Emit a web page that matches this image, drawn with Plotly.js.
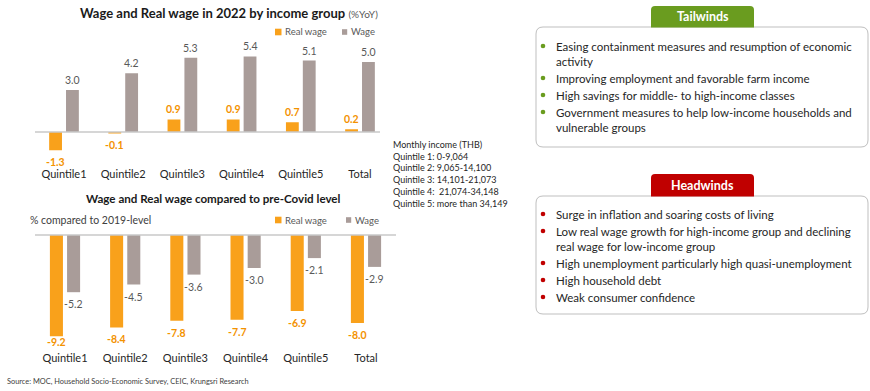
<!DOCTYPE html>
<html><head><meta charset="utf-8">
<script src="https://cdn.plot.ly/plotly-3.0.1.min.js"></script>
<style>html,body{margin:0;padding:0;background:#fff}#chart{width:870px;height:391px}</style>
</head><body><div id="chart"></div>
<script>
// ---- DATA ----
const categories = ['Quintile1','Quintile2','Quintile3','Quintile4','Quintile5','Total'];
const realWage2022 = [-1.3,-0.1,0.9,0.9,0.7,0.2];
const wage2022 = [3.0,4.2,5.3,5.4,5.1,5.0];
const realWageVsPreCovid = [-9.2,-8.4,-7.8,-7.7,-6.9,-8.0];
const wageVsPreCovid = [-5.2,-4.5,-3.6,-3.0,-2.1,-2.9];
const seriesNames = ['Real wage','Wage'];
const incomeNote = ['Monthly income (THB)','Quintile 1: 0-9,064','Quintile 2: 9,065-14,100','Quintile 3: 14,101-21,073','Quintile 4:  21,074-34,148','Quintile 5: more than 34,149'];
const tailwinds = [
  ['Easing containment measures and resumption of economic','activity'],
  ['Improving employment and favorable farm income'],
  ['High savings for middle- to high-income classes'],
  ['Government measures to help low-income households and','vulnerable groups']
];
const headwinds = [
  ['Surge in inflation and soaring costs of living'],
  ['Low real wage growth for high-income group and declining','real wage for low-income group'],
  ['High unemployment particularly high quasi-unemployment'],
  ['High household debt'],
  ['Weak consumer confidence']
];
const title1 = 'Wage and Real wage in 2022 by income group';
const title1Unit = '(%YoY)';
const title2 = 'Wage and Real wage compared to pre-Covid level';
const yLabel2 = '% compared to 2019-level';
const sourceText = 'Source: MOC, Household Socio-Economic Survey, CEIC, Krungsri Research';

// ---- STYLE / LAYOUT ----
const W = 870, H = 391;
const px = x => x / W, py = y => 1 - y / H;
const ORANGE = '#F9A11B', MAUVE = '#A99C99', GREEN = '#6A9C1F', RED = '#C00000';
const FONT = 'Lato, "Open Sans", sans-serif';

const c1 = {top:45, bottom:166, zero:132, ppu:14, x0:34.4, x1:389.6};
const c2 = {top:230, bottom:350, zero:235, ppu:11, x0:34.9, x1:396.1};
const rng = c => [-(c.bottom - c.zero) / c.ppu, (c.zero - c.top) / c.ppu];

const traces = [
  {type:'bar', name:seriesNames[0], x:categories, y:realWage2022, marker:{color:ORANGE}, xaxis:'x', yaxis:'y', hoverinfo:'none'},
  {type:'bar', name:seriesNames[1], x:categories, y:wage2022, marker:{color:MAUVE}, xaxis:'x', yaxis:'y', hoverinfo:'none'},
  {type:'bar', name:seriesNames[0], x:categories, y:realWageVsPreCovid, marker:{color:ORANGE}, xaxis:'x2', yaxis:'y2', hoverinfo:'none'},
  {type:'bar', name:seriesNames[1], x:categories, y:wageVsPreCovid, marker:{color:MAUVE}, xaxis:'x2', yaxis:'y2', hoverinfo:'none'}
];

const ann = [];
const shapes = [];

function valueLabels(vals, xr, yr, c, side, color, bold, clampPx) {
  const slot = (c.x1 - c.x0) / categories.length * 0.57 / 2;
  vals.forEach((v, i) => {
    let ys;
    if (v >= 0) ys = 10;
    else {
      let drop = 12;
      if (clampPx != null) {
        const barBottomPx = c.zero - v * c.ppu;
        drop = Math.min(12, clampPx - barBottomPx);
      }
      ys = -drop;
    }
    ann.push({x:categories[i], y:v, xref:xr, yref:yr, showarrow:false, xshift:side*slot/2, yshift:ys,
      yanchor:'middle', xanchor:'center',
      text: bold ? '<b>'+v.toFixed(1)+'</b>' : v.toFixed(1),
      font:{family:FONT, size:10.5, color:color}});
  });
}
valueLabels(realWage2022, 'x', 'y', c1, -1, '#F39200', true, null);
valueLabels(wage2022, 'x', 'y', c1, 1, '#595959', false, null);
valueLabels(realWageVsPreCovid, 'x2', 'y2', c2, -1, '#F39200', true, 342);
valueLabels(wageVsPreCovid, 'x2', 'y2', c2, 1, '#595959', false, null);

// zero lines
shapes.push({type:'line', xref:'paper', yref:'y', x0:px(35), x1:px(380), y0:0, y1:0, line:{color:'#C8C8C8', width:1.3}});
shapes.push({type:'line', xref:'paper', yref:'y2', x0:px(35), x1:px(396), y0:0, y1:0, line:{color:'#C8C8C8', width:1.3}});

// titles
ann.push({xref:'paper', yref:'paper', x:px(78), y:py(13), xanchor:'left', yanchor:'middle', showarrow:false,
  text:'<b>'+title1+'</b> <span style="font-size:10px;color:#595959">'+title1Unit+'</span>',
  font:{family:FONT, size:13, color:'#1A1A1A'}});
ann.push({xref:'paper', yref:'paper', x:px(213.5), y:py(198), xanchor:'center', yanchor:'middle', showarrow:false,
  text:'<b>'+title2+'</b>', font:{family:FONT, size:11.6, color:'#1A1A1A'}});
ann.push({xref:'paper', yref:'paper', x:px(28), y:py(220), xanchor:'left', yanchor:'middle', showarrow:false,
  text:yLabel2, font:{family:FONT, size:10.5, color:'#404040'}});

// legends
[{ly:32, wx:342}, {ly:220, wx:346}].forEach(({ly, wx}) => {
  shapes.push({type:'rect', xref:'paper', yref:'paper', x0:px(275), x1:px(281.5), y0:py(ly+3.3), y1:py(ly-3.3), fillcolor:ORANGE, line:{width:0}});
  shapes.push({type:'rect', xref:'paper', yref:'paper', x0:px(wx), x1:px(wx+5.2), y0:py(ly+2.8), y1:py(ly-2.8), fillcolor:MAUVE, line:{width:0}});
  ann.push({xref:'paper', yref:'paper', x:px(283), y:py(ly), xanchor:'left', yanchor:'middle', showarrow:false,
    text:seriesNames[0], font:{family:FONT, size:9.5, color:'#595959'}});
  ann.push({xref:'paper', yref:'paper', x:px(wx+6.5), y:py(ly), xanchor:'left', yanchor:'middle', showarrow:false,
    text:seriesNames[1], font:{family:FONT, size:9.5, color:'#595959'}});
});

// income note
ann.push({xref:'paper', yref:'paper', x:px(391), y:py(137), xanchor:'left', yanchor:'top', showarrow:false, align:'left',
  text:incomeNote.join('<br>'), font:{family:FONT, size:9, color:'#262626'}});

// source
ann.push({xref:'paper', yref:'paper', x:px(5), y:py(381), xanchor:'left', yanchor:'middle', showarrow:false,
  text:sourceText, font:{family:FONT, size:7.4, color:'#404040'}});

function roundRect(x0, y0, x1, y1, r) {
  const P = (x, y) => px(x) + ',' + py(y);
  return 'M' + P(x0 + r, y0) + ' L' + P(x1 - r, y0) + ' Q' + P(x1, y0) + ' ' + P(x1, y0 + r) +
    ' L' + P(x1, y1 - r) + ' Q' + P(x1, y1) + ' ' + P(x1 - r, y1) +
    ' L' + P(x0 + r, y1) + ' Q' + P(x0, y1) + ' ' + P(x0, y1 - r) +
    ' L' + P(x0, y0 + r) + ' Q' + P(x0, y0) + ' ' + P(x0 + r, y0) + ' Z';
}
function tabPath(x0, y0, x1, y1, r) {
  const P = (x, y) => px(x) + ',' + py(y);
  return 'M' + P(x0, y1) + ' L' + P(x0, y0 + r) + ' Q' + P(x0, y0) + ' ' + P(x0 + r, y0) +
    ' L' + P(x1 - r, y0) + ' Q' + P(x1, y0) + ' ' + P(x1, y0 + r) + ' L' + P(x1, y1) + ' Z';
}
function panel(label, color, items, tabTop, boxTop, boxBottom, firstY) {
  shapes.push({type:'path', xref:'paper', yref:'paper', path:roundRect(536, boxTop, 868, boxBottom, 7), line:{color:'#BFBFBF', width:1}, fillcolor:'rgba(0,0,0,0)'});
  shapes.push({type:'path', xref:'paper', yref:'paper', path:tabPath(651, tabTop, 754, boxTop + 0.5, 4), line:{width:0}, fillcolor:color});
  ann.push({xref:'paper', yref:'paper', x:px(702.5), y:py((tabTop + boxTop) / 2 + 0.5), xanchor:'center', yanchor:'middle', showarrow:false,
    text:'<b>'+label+'</b>', font:{family:FONT, size:12.5, color:'#FFFFFF'}});
  let y = firstY;
  items.forEach(lines => {
    shapes.push({type:'circle', xref:'paper', yref:'paper', x0:px(540.7), x1:px(545.3), y0:py(y + 3.3), y1:py(y - 1.3), fillcolor:color, line:{width:0}});
    ann.push({xref:'paper', yref:'paper', x:px(554), y:py(y - 7.5), xanchor:'left', yanchor:'top', showarrow:false, align:'left',
      text:lines.join('<br>'), font:{family:FONT, size:11.5, color:'#262626'}});
    y += 17 + 15 * (lines.length - 1);
  });
}
panel('Tailwinds', GREEN, tailwinds, 6, 27, 147, 45);
panel('Headwinds', RED, headwinds, 174, 196, 314, 213);

const axX = (c) => ({domain:[px(c.x0), px(c.x1)], type:'category', showgrid:false, zeroline:false, showline:false, ticks:'',
  tickfont:{family:FONT, size:11, color:'#262626'}, fixedrange:true});
const axY = (c) => ({domain:[py(c.bottom), py(c.top)], range:rng(c), visible:false, showgrid:false, zeroline:false, fixedrange:true});

const layout = {
  width:W, height:H, margin:{l:0, r:0, t:0, b:0}, paper_bgcolor:'#fff', plot_bgcolor:'rgba(0,0,0,0)',
  showlegend:false, barmode:'group', bargap:0.43, bargroupgap:0.24,
  xaxis:Object.assign(axX(c1), {anchor:'y'}),
  yaxis:Object.assign(axY(c1), {anchor:'x'}),
  xaxis2:Object.assign(axX(c2), {anchor:'y2'}),
  yaxis2:Object.assign(axY(c2), {anchor:'x2'}),
  annotations:ann, shapes:shapes, font:{family:FONT}
};
Plotly.newPlot('chart', traces, layout, {displayModeBar:false, staticPlot:true});
</script></body></html>
